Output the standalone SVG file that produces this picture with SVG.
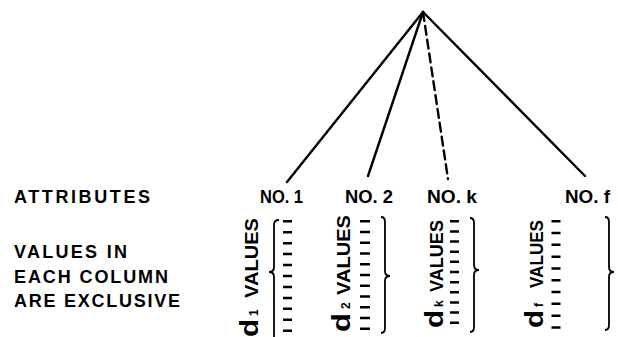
<svg xmlns="http://www.w3.org/2000/svg" width="618" height="337" viewBox="0 0 618 337">
<style>
text{font-family:"Liberation Sans",Arial,sans-serif;font-weight:bold;fill:#000}
.lbl{font-size:18px}
.no{font-size:18px}
.val{font-size:18px}
.d{font-size:25px}
.sub{font-size:12px}
.edge{stroke:#000;stroke-width:2.4;fill:none;stroke-linecap:round}
.dash{stroke-dasharray:9 5}
.brace{stroke:#000;stroke-width:1.8;fill:none}
.ticks{stroke:#000;fill:none}
</style>
<rect width="618" height="337" fill="#fff"/>
<g id="connectors">
<line class="edge" x1="423" y1="12" x2="287" y2="182"/>
<line class="edge" x1="423" y1="12" x2="368" y2="176"/>
<line class="edge dash" x1="423" y1="12" x2="448" y2="179"/>
<line class="edge" x1="423" y1="12" x2="585" y2="176"/>
</g>
<g id="legend">
<text class="lbl" x="14" y="203" textLength="136" lengthAdjust="spacing">ATTRIBUTES</text>
<text class="lbl" x="14" y="258" textLength="113" lengthAdjust="spacing">VALUES IN</text>
<text class="lbl" x="14" y="283" textLength="154" lengthAdjust="spacing">EACH COLUMN</text>
<text class="lbl" x="14" y="307" textLength="166" lengthAdjust="spacing">ARE EXCLUSIVE</text>
</g>
<g id="attr1">
<text class="no" x="260" y="203" textLength="43" lengthAdjust="spacingAndGlyphs">NO. 1</text>
<g transform="translate(258,337) rotate(-90)">
<text class="d" x="0" y="0" textLength="18" lengthAdjust="spacingAndGlyphs">d</text>
<text class="sub" x="21" y="0">1</text>
<text class="val" x="39" y="0" textLength="80" lengthAdjust="spacingAndGlyphs">VALUES</text>
</g>
<path class="brace" d="M279,220 Q274,220 274,225 L274,267 Q274,272 269,272 Q274,272 274,277 L274,337"/>
<line class="ticks" x1="287.5" y1="220" x2="287.5" y2="333" stroke-width="9" stroke-dasharray="2.5 8.45"/>
</g>
<g id="attr2">
<text class="no" x="345" y="203" textLength="48" lengthAdjust="spacingAndGlyphs">NO. 2</text>
<g transform="translate(350,332) rotate(-90)">
<text class="d" x="0" y="0" textLength="19" lengthAdjust="spacingAndGlyphs">d</text>
<text class="sub" x="23" y="0">2</text>
<text class="val" x="37" y="0" textLength="80" lengthAdjust="spacingAndGlyphs">VALUES</text>
</g>
<path class="brace" d="M381,217 Q385,217 385,222 L385,271 Q385,276 390,276 Q385,276 385,281 L385,328 Q385,333 381,333"/>
<line class="ticks" x1="365" y1="220" x2="365" y2="331" stroke-width="10" stroke-dasharray="2.5 8.25"/>
</g>
<g id="attrk">
<text class="no" x="427" y="203" textLength="50" lengthAdjust="spacingAndGlyphs">NO. k</text>
<g transform="translate(443,328) rotate(-90)">
<text class="d" x="0" y="0" textLength="18" lengthAdjust="spacingAndGlyphs">d</text>
<text class="sub" x="21" y="0">k</text>
<text class="val" x="36" y="0" textLength="72" lengthAdjust="spacingAndGlyphs">VALUES</text>
</g>
<path class="brace" d="M470,218 Q474,218 474,223 L474,265 Q474,270 479,270 Q474,270 474,275 L474,327 Q474,332 470,332"/>
<line class="ticks" x1="454.5" y1="220" x2="454.5" y2="324" stroke-width="9" stroke-dasharray="2.5 7.65"/>
</g>
<g id="attrf">
<text class="no" x="565" y="203" textLength="45" lengthAdjust="spacingAndGlyphs">NO. f</text>
<g transform="translate(543,328) rotate(-90)">
<text class="d" x="0" y="0" textLength="18" lengthAdjust="spacingAndGlyphs">d</text>
<text class="sub" x="21" y="0">f</text>
<text class="val" x="40" y="0" textLength="68" lengthAdjust="spacingAndGlyphs">VALUES</text>
</g>
<path class="brace" d="M605,217 Q609,217 609,222 L609,267 Q609,272 614,272 Q609,272 609,277 L609,325 Q609,330 605,330"/>
<line class="ticks" x1="556" y1="220" x2="556" y2="329" stroke-width="9" stroke-dasharray="2.5 9.3"/>
</g>
</svg>
